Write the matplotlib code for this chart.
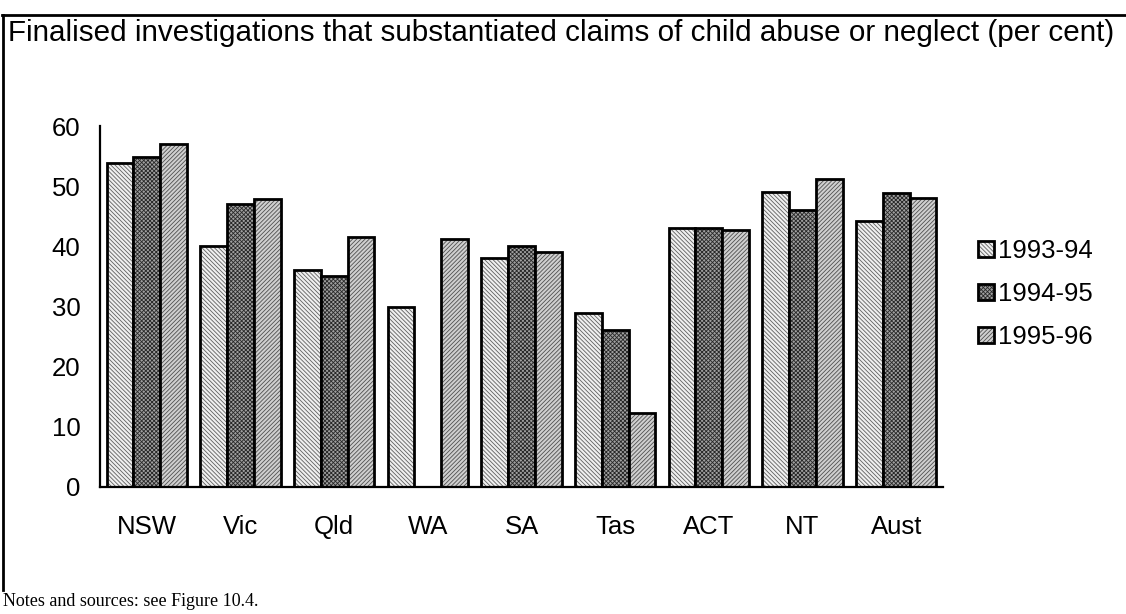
import numpy as np
import matplotlib
matplotlib.use("Agg")
import matplotlib.pyplot as plt
from matplotlib.lines import Line2D
from matplotlib.patches import Patch
from matplotlib.legend_handler import HandlerTuple

# Substantiated investigations by jurisdiction (per cent)
states = ["NSW", "Vic", "Qld", "WA", "SA", "Tas", "ACT", "NT", "Aust"]
years = ["1993-94", "1994-95", "1995-96"]
y1993 = [53.9, 40.0, 36.1, 29.9, 38.0, 29.0, 43.0, 49.1, 44.2]
y1994 = [54.9, 47.0, 35.0, np.nan, 40.0, 26.1, 43.0, 46.0, 48.8]
y1995 = [57.0, 47.8, 41.5, 41.2, 39.0, 12.3, 42.7, 51.2, 48.1]
yticks = [0, 10, 20, 30, 40, 50, 60]

plt.rcParams["font.family"] = ["Liberation Sans", "DejaVu Sans"]
plt.rcParams["hatch.linewidth"] = 0.6

fig = plt.figure(figsize=(11.26, 6.14), dpi=100)
ax = fig.add_axes([100 / 1126, 1 - 487 / 614, 843 / 1126, 361 / 614])

# fill + hatch colour for each series (hatch drawn in the edge colour)
fills = [
    dict(facecolor="#f0f0f0", edgecolor="#606060", hatch="\\\\\\\\\\\\\\\\"),
    dict(facecolor="#a0a0a0", edgecolor="#282828", hatch="xxxxxxxx"),
    dict(facecolor="#d0d0d0", edgecolor="#505050", hatch="////////"),
]
series = [y1993, y1994, y1995]
x = np.arange(len(states))
w = 0.285
handles = []
for i, (vals, st) in enumerate(zip(series, fills)):
    xs = x + (i - 1) * w
    ax.bar(xs, vals, width=w, linewidth=0, **st)
    ax.bar(xs, vals, width=w, facecolor="none", edgecolor="black", linewidth=2.0)
    handles.append((Patch(linewidth=0, **st),
                    Patch(facecolor="none", edgecolor="black", linewidth=2.0)))

ax.set_xlim(-0.5, len(states) - 0.5)
ax.set_ylim(0, 60)
ax.set_yticks(yticks)
ax.set_xticks(x)
ax.set_xticklabels(states)
ax.tick_params(axis="both", length=0, labelsize=18.5)
ax.tick_params(axis="y", pad=14)
ax.tick_params(axis="x", pad=20)
for s in ["top", "right"]:
    ax.spines[s].set_visible(False)
for s in ["left", "bottom"]:
    ax.spines[s].set_linewidth(1.6)

fig.legend(handles, years, handler_map={tuple: HandlerTuple(ndivide=1, pad=0)},
           loc="center left", bbox_to_anchor=(968 / 1126, 1 - 294 / 614),
           frameon=False, fontsize=18.5, handlelength=0.6, handleheight=0.6,
           handletextpad=0.15, labelspacing=0.75, borderaxespad=0)

# frame lines and captions
fig.add_artist(Line2D([2 / 1126, 1], [1 - 15 / 614] * 2, color="black", lw=2))
fig.add_artist(Line2D([3 / 1126] * 2, [1 - 15 / 614, 1 - 590 / 614], color="black", lw=2))
fig.text(8 / 1126, 1 - 33 / 614,
         "Finalised investigations that substantiated claims of child abuse or neglect (per cent)",
         fontsize=21.3, va="center", ha="left")
fig.text(3 / 1126, 1 - 601 / 614, "Notes and sources: see Figure 10.4.",
         fontsize=13, family=["Liberation Serif", "DejaVu Serif"], va="center", ha="left")

fig.savefig("out.png", dpi=100, facecolor="white")
